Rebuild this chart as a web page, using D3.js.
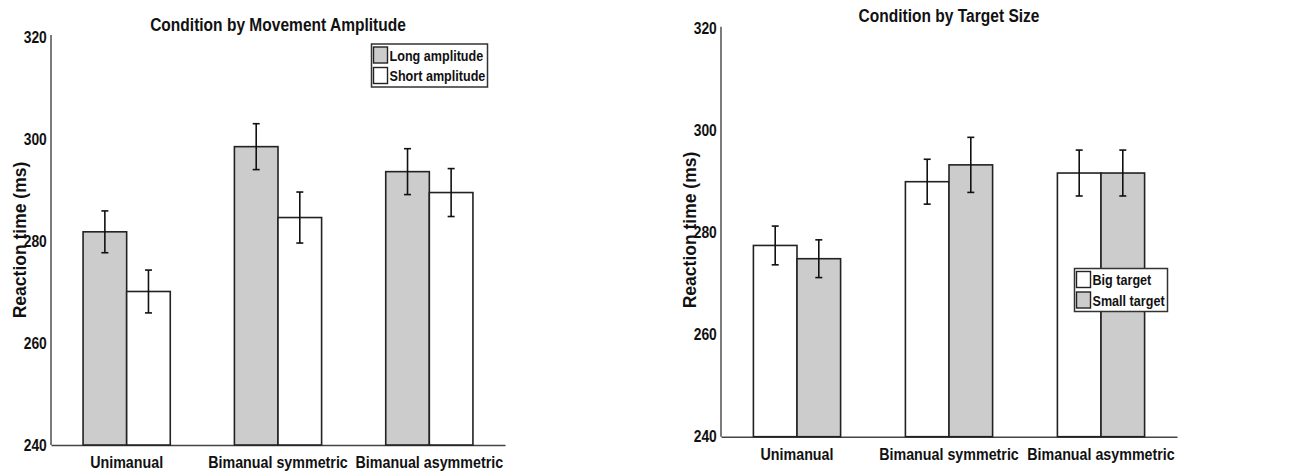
<!DOCTYPE html>
<html lang="en">
<head>
<meta charset="utf-8">
<title>Reaction time by condition</title>
<script src="https://d3js.org/d3.v7.min.js"></script>
<style>
body { margin: 0; background: #fff; }
svg text { font-family: "Liberation Sans", Arial, sans-serif; font-weight: bold; fill: #111; }
.axis path { stroke: #444; stroke-width: 1.4; }
.axis line { display: none; }
</style>
</head>
<body>
<div id="chart"></div>
<script>
// values (ms)
var categories = ["Unimanual", "Bimanual symmetric", "Bimanual asymmetric"];
var yTicks = [240, 260, 280, 300, 320];

var ampSeries = ["Long amplitude", "Short amplitude"];
var ampLong = [281.8, 298.5, 293.6];
var ampLongErr = [4.1, 4.5, 4.5];
var ampShort = [270.1, 284.6, 289.5];
var ampShortErr = [4.2, 5.0, 4.7];

var sizeSeries = ["Big target", "Small target"];
var sizeBig = [277.5, 290.0, 291.7];
var sizeBigErr = [3.8, 4.4, 4.5];
var sizeSmall = [274.9, 293.3, 291.7];
var sizeSmallErr = [3.7, 5.4, 4.5];

var sx = 0.84; // the figure's lettering is narrow

var svg = d3.select('#chart').append('svg')
  .attr('width', 1316)
  .attr('height', 471);

function panel(opt) {
  var y = d3.scaleLinear().domain([240, 320]).range([opt.bottom, opt.top]);
  var x = d3.scaleBand().domain(categories).range([opt.left, opt.right]);
  var inner = d3.scaleBand().domain(opt.series).range([-opt.barW, opt.barW]);

  var g = svg.append('g');

  // y axis
  g.append('g').attr('class', 'axis')
    .attr('transform', 'translate(' + opt.left + ',0)')
    .call(d3.axisLeft(y).tickValues(yTicks).tickSize(0).tickPadding(5).tickSizeOuter(0))
    .call(function(a) { a.select('.domain').attr('d', 'M0,' + (opt.top - 2) + 'V' + opt.bottom); })
    .selectAll('text')
    .style('font-size', '16.5px')
    .attr('transform', 'scale(' + sx + ',1)');

  // x axis
  g.append('g').attr('class', 'axis')
    .attr('transform', 'translate(0,' + opt.bottom + ')')
    .call(d3.axisBottom(x).tickSize(0).tickPadding(11).tickSizeOuter(0))
    .selectAll('text')
    .style('font-size', '17px')
    .attr('transform', 'scale(' + sx + ',1)');

  var rows = [];
  opt.series.forEach(function(s, si) {
    categories.forEach(function(c, ci) {
      rows.push({ cat: c, s: s, v: opt.values[si][ci], e: opt.errs[si][ci], fill: opt.fills[si] });
    });
  });

  g.selectAll('rect.bar').data(rows).enter().append('rect')
    .attr('class', 'bar')
    .attr('x', function(d) { return x(d.cat) + x.bandwidth() / 2 + inner(d.s); })
    .attr('y', function(d) { return y(d.v); })
    .attr('width', inner.bandwidth())
    .attr('height', function(d) { return y(240) - y(d.v); })
    .style('fill', function(d) { return d.fill; })
    .style('stroke', '#222')
    .style('stroke-width', 1.6);

  // error bars
  var cx = function(d) { return x(d.cat) + x.bandwidth() / 2 + inner(d.s) + inner.bandwidth() / 2; };
  var eb = g.selectAll('g.err').data(rows).enter().append('g').attr('class', 'err')
    .style('stroke', '#111').style('stroke-width', 1.6);
  eb.append('line')
    .attr('x1', cx).attr('x2', cx)
    .attr('y1', function(d) { return y(d.v + d.e); })
    .attr('y2', function(d) { return y(d.v - d.e); });
  eb.append('line')
    .attr('x1', function(d) { return cx(d) - 3.5; }).attr('x2', function(d) { return cx(d) + 3.5; })
    .attr('y1', function(d) { return y(d.v + d.e); }).attr('y2', function(d) { return y(d.v + d.e); });
  eb.append('line')
    .attr('x1', function(d) { return cx(d) - 3.5; }).attr('x2', function(d) { return cx(d) + 3.5; })
    .attr('y1', function(d) { return y(d.v - d.e); }).attr('y2', function(d) { return y(d.v - d.e); });

  // title
  g.append('text')
    .attr('transform', 'translate(' + opt.titleX + ',' + opt.titleY + ') scale(' + sx + ',1)')
    .attr('text-anchor', 'middle')
    .style('font-size', '18.5px')
    .text(opt.title);

  // y label
  g.append('text')
    .attr('transform', 'translate(' + opt.ylabX + ',' + opt.ylabY + ') rotate(-90)')
    .attr('text-anchor', 'middle')
    .style('font-size', '17.5px')
    .text('Reaction time (ms)');

  // legend
  var lg = g.append('g').attr('transform', 'translate(' + opt.legX + ',' + opt.legY + ')');
  lg.append('rect')
    .attr('width', opt.legW).attr('height', 43)
    .style('fill', '#fff').style('stroke', '#333').style('stroke-width', 1.5);
  opt.series.forEach(function(s, i) {
    lg.append('rect')
      .attr('x', 2).attr('y', 3 + i * 20.5)
      .attr('width', 14).attr('height', 16)
      .style('fill', opt.fills[i]).style('stroke', '#222').style('stroke-width', 1.4);
    lg.append('text')
      .attr('transform', 'translate(18,' + (16.5 + i * 20.5) + ') scale(' + sx + ',1)')
      .style('font-size', '15px')
      .text(s);
  });
}

panel({
  left: 51, right: 505, top: 37, bottom: 445, barW: 43.6,
  series: ampSeries, values: [ampLong, ampShort], errs: [ampLongErr, ampShortErr],
  fills: ['#cccccc', '#ffffff'],
  title: 'Condition by Movement Amplitude', titleX: 278, titleY: 31,
  ylabX: 25.5, ylabY: 240,
  legX: 371.5, legY: 44, legW: 116
});

panel({
  left: 721, right: 1177, top: 28.7, bottom: 436.7, barW: 43.6,
  series: sizeSeries, values: [sizeBig, sizeSmall], errs: [sizeBigErr, sizeSmallErr],
  fills: ['#ffffff', '#cccccc'],
  title: 'Condition by Target Size', titleX: 949, titleY: 22,
  ylabX: 695.5, ylabY: 230,
  legX: 1074.5, legY: 268.5, legW: 93
});
</script>
</body>
</html>
